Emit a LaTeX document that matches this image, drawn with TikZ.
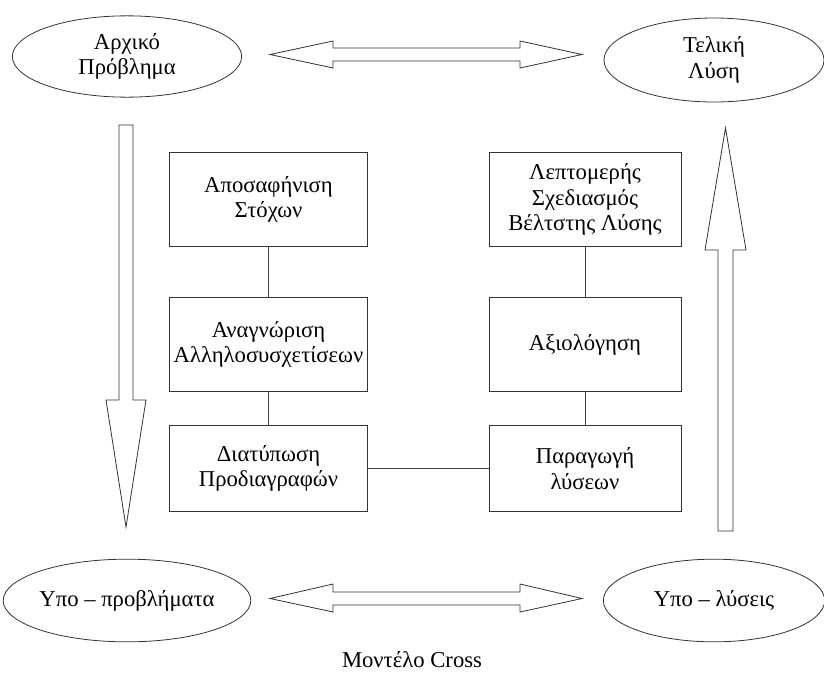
\documentclass[tikz,border=0pt]{standalone}
\usepackage{fontspec}
\setmainfont{Liberation Serif}
\usepackage{tikz}
\usepackage{xcolor}
\usetikzlibrary{shapes.geometric}

\begin{document}
\begin{tikzpicture}[x=0.75pt,y=-0.75pt,
    every node/.style={font=\fontsize{17}{19}\selectfont, align=center},
    oval/.style={ellipse, draw=black!80, line width=0.6pt, inner sep=0pt},
    stepbox/.style={rectangle, draw=black!80, line width=0.6pt, inner sep=2pt},
    link/.style={draw=black!75, line width=0.6pt},
    hollow/.style={draw=black!80, line width=0.6pt, fill=white}]
      \useasboundingbox (0,0) rectangle (824,672);
      % Ellipses
      \node[oval, minimum width=172pt, minimum height=61pt] (arxiko) at (127,56.5) {Αρχικό\\Πρόβλημα};
      \node[oval, minimum width=165pt, minimum height=63pt] (teliki) at (714,60) {Τελική\\Λύση};
      \node[oval, minimum width=172pt, minimum height=62pt] (ypoprob) at (127,600.5) {Υπο – προβλήματα};
      \node[oval, minimum width=166pt, minimum height=62pt] (ypolys) at (714,600.5) {Υπο – λύσεις};
      % Left column
      \node[stepbox, minimum width=149pt, minimum height=71pt] (stoxoi) at (268.5,199.5) {Αποσαφήνιση\\Στόχων};
      \node[stepbox, minimum width=149pt, minimum height=70pt] (allilo) at (268.5,344.5) {Αναγνώριση\\Αλληλοσυσχετίσεων};
      \node[stepbox, minimum width=149pt, minimum height=65pt] (prodiag) at (268.5,468.5) {Διατύπωση\\Προδιαγραφών};
      % Right column
      \node[stepbox, minimum width=144pt, minimum height=71pt] (leptom) at (585,199.5) {Λεπτομερής\\Σχεδιασμός\\Βέλτστης Λύσης};
      \node[stepbox, minimum width=144pt, minimum height=70pt] (axiol) at (585,344.5) {Αξιολόγηση};
      \node[stepbox, minimum width=144pt, minimum height=65pt] (paragogi) at (585,468.5) {Παραγωγή\\λύσεων};
      % Links
      \draw[link] (stoxoi) -- (allilo);
      \draw[link] (allilo) -- (prodiag);
      \draw[link] (prodiag) -- (paragogi);
      \draw[link] (paragogi) -- (axiol);
      \draw[link] (axiol) -- (leptom);
      % Hollow arrows
      \draw[hollow] (270,54.5) -- (333,41) -- (333,48) -- (520,48) -- (520,41) -- (582,54.5)
        -- (520,68) -- (520,61) -- (333,61) -- (333,68) -- cycle;
      \draw[hollow] (270,598.5) -- (333,584) -- (333,592) -- (520,592) -- (520,584) -- (582,598.5)
        -- (520,612) -- (520,605) -- (333,605) -- (333,612) -- cycle;
      \draw[hollow] (119,125) -- (133,125) -- (133,400) -- (146,400) -- (126,527)
        -- (106,400) -- (119,400) -- cycle;
      \draw[hollow] (718,531) -- (733,531) -- (733,250) -- (746,250) -- (725.5,128)
        -- (705,250) -- (718,250) -- cycle;
      % Caption
      \node (caption) at (412,660) {Μοντέλο Cross};
\end{tikzpicture}
\end{document}
